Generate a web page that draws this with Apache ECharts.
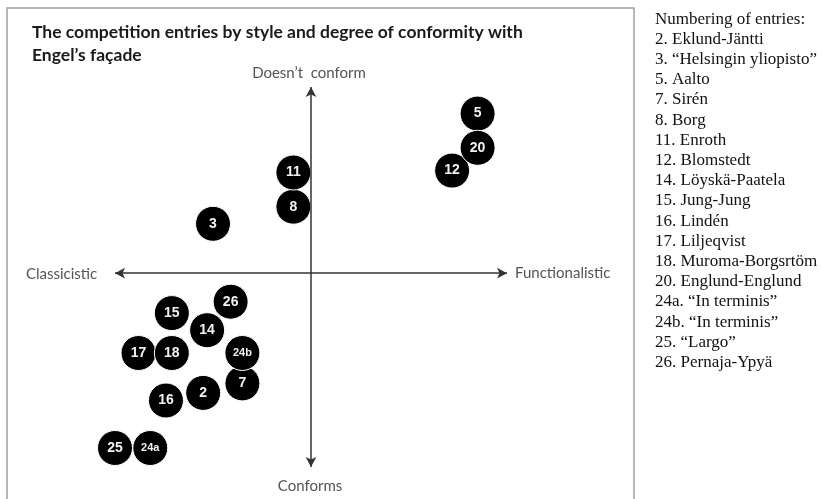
<!DOCTYPE html>
<html>
<head>
<meta charset="utf-8">
<script src="https://cdn.jsdelivr.net/npm/echarts@6/dist/echarts.min.js"></script>
<style>
  html, body { margin: 0; padding: 0; background: #fff; }
  #chart { width: 822px; height: 499px; }
</style>
</head>
<body>
<div id="chart"></div>
<script>
// entry numbers and their position on the style / conformity plane
const entries = ["2", "3", "5", "7", "8", "11", "12", "14", "15", "16", "17", "18", "20", "24a", "24b", "25", "26"];
const styleScore = [-5.5, -5.0, 8.5, -3.5, -0.9, -0.9, 7.2, -5.3, -7.1, -7.4, -8.8, -7.1, 8.5, -8.2, -3.5, -10.0, -4.1];
const conformScore = [-6.3, 2.6, 8.4, -5.8, 3.5, 5.3, 5.4, -3.0, -2.1, -6.7, -4.2, -4.2, 6.6, -9.2, -4.2, -9.2, -1.5];

const legendTitle = "Numbering of entries:";
const legendLines = [
  "2. Eklund-Jäntti",
  "3. “Helsingin yliopisto”",
  "5. Aalto",
  "7. Sirén",
  "8. Borg",
  "11. Enroth",
  "12. Blomstedt",
  "14. Löyskä-Paatela",
  "15. Jung-Jung",
  "16. Lindén",
  "17. Liljeqvist",
  "18. Muroma-Borgsrtöm",
  "20. Englund-Englund",
  "24a. “In terminis”",
  "24b. “In terminis”",
  "25. “Largo”",
  "26. Pernaja-Ypyä"
];

const xRange = [-10, 10];
const yRange = [-10.2, 9.8];

const points = entries.map((name, i) => ({
  name: name,
  value: [styleScore[i], conformScore[i]],
  label: { fontSize: name.length > 2 ? 11 : 14 }
}));

const axisText = { fill: "#555", font: "15px Lato" };

const chart = echarts.init(document.getElementById("chart"));
chart.setOption({
  backgroundColor: "#fff",
  animation: false,
  title: [
    {
      text: "The competition entries by style and degree of conformity with\nEngel’s façade",
      left: 27,
      top: 16,
      textStyle: { fontFamily: "Lato", fontWeight: "bold", fontSize: 17.5, color: "#1a1a1a", lineHeight: 23 }
    },
    {
      text: [legendTitle].concat(legendLines).join("\n"),
      left: 650,
      top: 4,
      textStyle: { fontFamily: "Liberation Serif", fontWeight: "normal", fontSize: 17, color: "#111", lineHeight: 20.2 }
    }
  ],
  grid: { left: 115, right: 315, top: 87, bottom: 32 },
  xAxis: { type: "value", min: xRange[0], max: xRange[1], show: false },
  yAxis: { type: "value", min: yRange[0], max: yRange[1], show: false },
  graphic: [
    {
      type: "rect",
      shape: { x: 7, y: 8, width: 627, height: 520 },
      style: { fill: "none", stroke: "#a0a0a0", lineWidth: 1.5 },
      z: -1
    },
    { type: "text", x: 309, y: 73, style: Object.assign({ text: "Doesn’t  conform", align: "center", verticalAlign: "middle" }, axisText) },
    { type: "text", x: 310, y: 486, style: Object.assign({ text: "Conforms", align: "center", verticalAlign: "middle" }, axisText) },
    { type: "text", x: 26, y: 274, style: Object.assign({ text: "Classicistic", align: "left", verticalAlign: "middle" }, axisText) },
    { type: "text", x: 515, y: 273, style: Object.assign({ text: "Functionalistic", align: "left", verticalAlign: "middle" }, axisText) }
  ],
  series: [
    {
      type: "scatter",
      data: points,
      symbolSize: 35,
      clip: false,
      itemStyle: { color: "#000", borderColor: "#fff", borderWidth: 1, opacity: 1 },
      label: {
        show: true,
        position: "inside",
        formatter: "{b}",
        color: "#f2f2f2",
        fontFamily: "Liberation Sans",
        fontWeight: "bold"
      },
      markLine: {
        silent: true,
        symbol: ["arrow", "arrow"],
        symbolSize: [8, 10],
        label: { show: false },
        lineStyle: { color: "#333", width: 1.5, type: "solid" },
        data: [
          [{ coord: [xRange[0], 0] }, { coord: [xRange[1], 0] }],
          [{ coord: [0, yRange[0]] }, { coord: [0, yRange[1]] }]
        ]
      },
      z: 3
    }
  ]
});
</script>
</body>
</html>
